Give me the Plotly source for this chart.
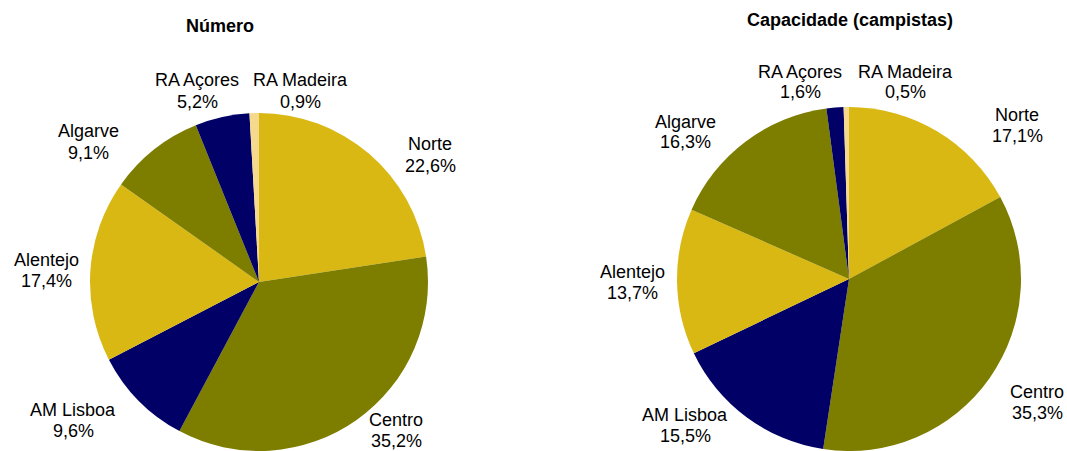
import plotly.graph_objects as go

# ---- data ----
regions = ["Norte", "Centro", "AM Lisboa", "Alentejo", "Algarve", "RA Açores", "RA Madeira"]
numero_pct = [22.6, 35.2, 9.6, 17.4, 9.1, 5.2, 0.9]
capacidade_pct = [17.1, 35.3, 15.5, 13.7, 16.3, 1.6, 0.5]
titles = ["Número", "Capacidade (campistas)"]

# ---- style ----
YEL, OLV, NAV, LGT = "#D9B814", "#7D7D00", "#000066", "#F5D98C"
slice_colors = [YEL, OLV, NAV, YEL, OLV, NAV, LGT]
W, H = 1067, 451
FONT = "Liberation Sans, Arial, sans-serif"
LINE_GAP = 21

# label anchor positions (block centres) in pixels (layout only)
left_label_px = [(430, 155), (396, 430), (73, 420), (46, 270), (88, 142), (197, 91), (300, 91)]
right_label_px = [(1017, 125), (1037, 402), (685, 425), (632, 282), (685, 132), (800, 82), (905, 82)]
title_px = [(220, 26), (850, 20)]

fig = go.Figure()
fig.add_trace(go.Pie(
    labels=regions, values=numero_pct, sort=False, direction="clockwise", rotation=0,
    marker=dict(colors=slice_colors, line=dict(width=0)), textinfo="none", hoverinfo="label+percent",
    domain=dict(x=[90 / W, 428 / W], y=[0, 338 / H]), showlegend=False,
))
fig.add_trace(go.Pie(
    labels=regions, values=capacidade_pct, sort=False, direction="clockwise", rotation=0,
    marker=dict(colors=slice_colors, line=dict(width=0)), textinfo="none", hoverinfo="label+percent",
    domain=dict(x=[677 / W, 1021 / W], y=[0, 344 / H]), showlegend=False,
))

def fmt(v):
    return f"{v:.1f}".replace(".", ",") + "%"

annotations = []
for vals, pos in ((numero_pct, left_label_px), (capacidade_pct, right_label_px)):
    for lab, v, (px, py) in zip(regions, vals, pos):
        for txt, dy in ((lab, -LINE_GAP / 2), (fmt(v), LINE_GAP / 2)):
            annotations.append(dict(
                x=px / W, y=1 - (py + dy) / H, xref="paper", yref="paper", showarrow=False,
                text=txt, align="center", xanchor="center", yanchor="middle",
                font=dict(family=FONT, size=18, color="#000000"),
            ))
for t, (px, py) in zip(titles, title_px):
    annotations.append(dict(
        x=px / W, y=1 - py / H, xref="paper", yref="paper", showarrow=False,
        text=f"<b>{t}</b>", xanchor="center", yanchor="middle",
        font=dict(family=FONT, size=18, color="#000000"),
    ))

fig.update_layout(
    width=W, height=H, margin=dict(l=0, r=0, t=0, b=0),
    paper_bgcolor="white", plot_bgcolor="white",
    annotations=annotations, font=dict(family=FONT),
)
fig.write_html(
    "out.html",
    config={"displayModeBar": False},
    post_script="document.body.style.margin='0';document.body.style.overflow='hidden';",
)
